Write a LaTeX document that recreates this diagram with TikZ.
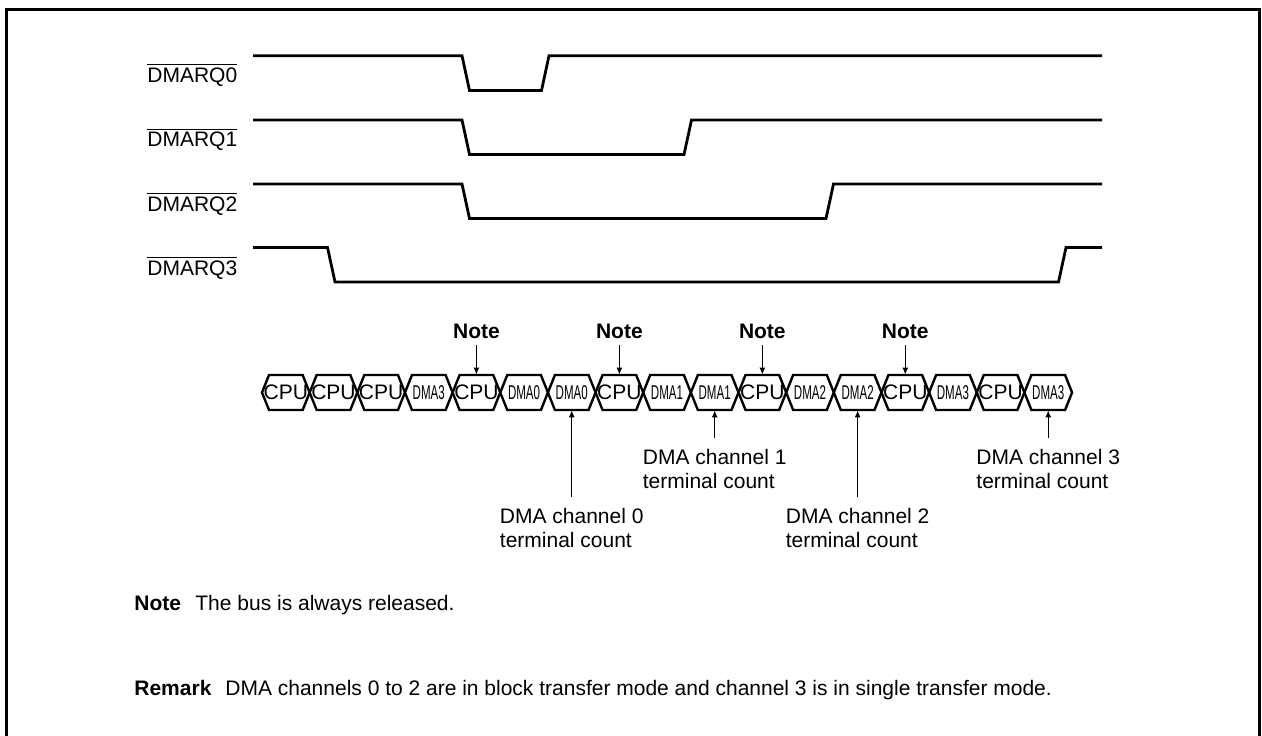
\documentclass[tikz,border=0pt]{standalone}
\usepackage{fontspec}
\setmainfont{Liberation Sans}
\usetikzlibrary{arrows.meta}

\newcommand{\dmatext}[1]{\scalebox{0.55}[0.95]{#1}}

\begin{document}
\begin{tikzpicture}[x=0.5pt, y=-0.5pt, every node/.style={font=\fontsize{10.5}{12}\selectfont}, >={Latex[length=3.5pt,width=3pt]},
	sig/.style={line width=1.4pt, line join=miter},
	cell/.style={line width=1.2pt},
	cellbox/.style={inner sep=0pt, minimum height=17.5pt},
	tclabel/.style={anchor=north, align=left, inner sep=0pt},
	textline/.style={anchor=base west, inner sep=0pt}]
	\clip (0,0) rectangle (1262,735);
	\draw[line width=1.6pt] (6.5,9.5) rectangle (1259.5,760);
	% request lines
	\node[anchor=west, inner sep=0pt] (rq0) at (147,75) {$\overline{\mbox{DMARQ0}}$};
	\node[anchor=west, inner sep=0pt] (rq1) at (147,139.5) {$\overline{\mbox{DMARQ1}}$};
	\node[anchor=west, inner sep=0pt] (rq2) at (147,204) {$\overline{\mbox{DMARQ2}}$};
	\node[anchor=west, inner sep=0pt] (rq3) at (147,268) {$\overline{\mbox{DMARQ3}}$};
	\draw[sig] (253,55.7) -- (462,55.7) -- (469.5,90.5) -- (541.5,90.5) -- (549,55.7) -- (1102,55.7);
	\draw[sig] (253,120) -- (462,120) -- (469.5,154.5) -- (684,154.5) -- (691.5,120) -- (1102,120);
	\draw[sig] (253,184) -- (462,184) -- (469.5,218.5) -- (826,218.5) -- (833.5,184) -- (1102,184);
	\draw[sig] (253,247.5) -- (327.5,247.5) -- (335,282) -- (1058.5,282) -- (1066,247.5) -- (1102,247.5);
	% bus cycles
	\foreach \t [count=\k from 0] in {CPU,CPU,CPU,\dmatext{DMA3},CPU,\dmatext{DMA0},\dmatext{DMA0},CPU,\dmatext{DMA1},\dmatext{DMA1},CPU,\dmatext{DMA2},\dmatext{DMA2},CPU,\dmatext{DMA3},CPU,\dmatext{DMA3}} {
		\pgfmathsetmacro{\a}{262+47.65*\k}
		\draw[cell] (\a,392.5) -- ++(7,-17.5) -- ++(33.65,0) -- ++(7,17.5) -- ++(-7,17.5) -- ++(-33.65,0) -- cycle;
		\node[cellbox] (c\k) at (\a+23.825,392.5) {\t};
	}
	% notes
	\foreach \k/\n in {4/1,7/2,10/3,13/4} {
		\node[font=\bfseries\fontsize{10.5}{12}\selectfont] (note\n) at (c\k |- 0,331) {Note};
		\draw[->, line width=0.6pt] (note\n.south) -- (c\k.north);
	}
	% terminal counts
	\node[tclabel] (tc0) at (c6 |- 0,508) {DMA channel 0\\terminal count};
	\node[tclabel] (tc1) at (c9 |- 0,449) {DMA channel 1\\terminal count};
	\node[tclabel] (tc2) at (c12 |- 0,508) {DMA channel 2\\terminal count};
	\node[tclabel] (tc3) at (c16 |- 0,449) {DMA channel 3\\terminal count};
	\foreach \k/\n in {6/0,9/1,12/2,16/3}
		\draw[->, line width=0.6pt, shorten <=5.5pt] (tc\n.north) -- (c\k.south);
	% remarks
	\node[textline] (notehd) at (134,610) {\textbf{Note}};
	\node[textline] (notetx) at (195,610) {The bus is always released.};
	\node[textline] (remhd) at (134,695) {\textbf{Remark}};
	\node[textline] (remtx) at (225,695) {DMA channels 0 to 2 are in block transfer mode and channel 3 is in single transfer mode.};
\end{tikzpicture}
\end{document}
